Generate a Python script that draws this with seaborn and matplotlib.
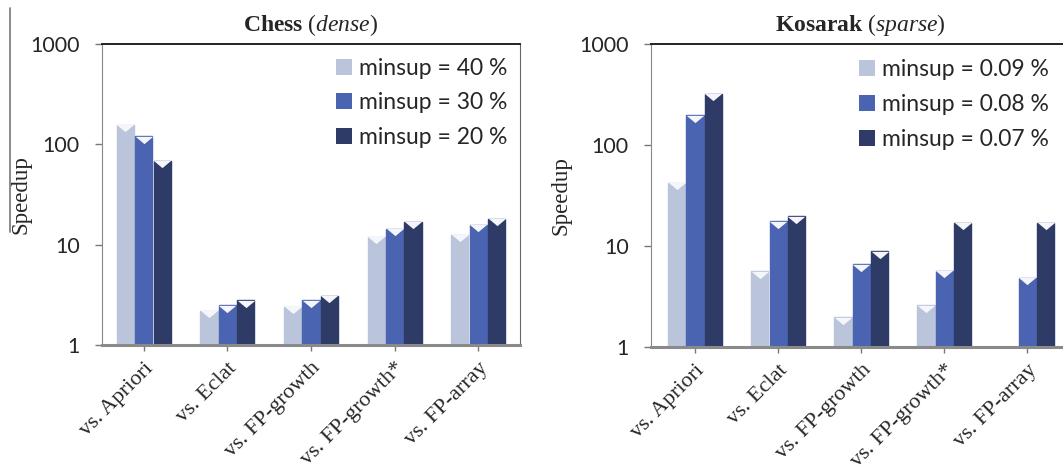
import numpy as np
import pandas as pd
import matplotlib
matplotlib.use("Agg")
import matplotlib.pyplot as plt
from matplotlib.lines import Line2D
import seaborn as sns

# ---------------- data ----------------
categories = ["vs. Apriori", "vs. Eclat", "vs. FP-growth", "vs. FP-growth*", "vs. FP-array"]

chess_labels = ["minsup = 40 %", "minsup = 30 %", "minsup = 20 %"]
chess_40 = [157, 2.2, 2.4, 12.0, 12.6]
chess_30 = [120, 2.5, 2.8, 14.4, 15.8]
chess_20 = [69, 2.8, 3.1, 17.0, 18.2]

kosarak_labels = ["minsup = 0.09 %", "minsup = 0.08 %", "minsup = 0.07 %"]
kosarak_009 = [42.5, 5.6, 1.96, 2.6, np.nan]
kosarak_008 = [197, 17.6, 6.6, 5.7, 4.85]
kosarak_007 = [321, 19.6, 8.9, 17.0, 17.0]

y_ticks = [1, 10, 100, 1000]
y_ticklabels = ["1", "10", "100", "1000"]

colors = ["#b5c2e0", "#3a5bc2", "#25366f"]
highlight = ["#f4f6fb", "#7fa6ef", "#4d69c0"]


def long_frame(series_labels, series_values):
    rows = []
    for lab, vals in zip(series_labels, series_values):
        for cat, v in zip(categories, vals):
            rows.append({"cat": cat, "series": lab, "value": v})
    return pd.DataFrame(rows)


chess_df = long_frame(chess_labels, [chess_40, chess_30, chess_20])
kos_df = long_frame(kosarak_labels, [kosarak_009, kosarak_008, kosarak_007])

# ---------------- style ----------------
sns.set_style("ticks")
plt.rcParams["font.family"] = ["Lato", "DejaVu Sans"]
plt.rcParams["mathtext.fontset"] = "custom"
plt.rcParams["mathtext.rm"] = "Liberation Serif"
plt.rcParams["mathtext.it"] = "Liberation Serif:italic"
plt.rcParams["mathtext.bf"] = "Liberation Serif:bold"

fig = plt.figure(figsize=(10.63, 4.74), dpi=100)

W, H = 1063, 474
ax1 = fig.add_axes([102 / W, 1 - 345 / H, 418 / W, (345 - 44) / H])
ax2 = fig.add_axes([651 / W, 1 - 347 / H, 418 / W, (347 - 44) / H])

serif = "Liberation Serif"

tri = [(-1.0, 0.42), (1.0, 0.42), (0.0, -0.42)]
hex_colors = [matplotlib.colors.to_hex(c) for c in colors]


def draw(ax, df, labels, title, xlim_left, ylab_x, leg_anchor):
    ax.set_yscale("log")
    sns.barplot(data=df, x="cat", y="value", hue="series", hue_order=labels,
                order=categories, palette=colors, width=0.66, gap=0.06,
                edgecolor="none", ax=ax, legend=True, err_kws={"linewidth": 0})
    ax.set_ylim(1, 1000)
    ax.set_xlim(xlim_left, 4.5)
    ax.set_yticks(y_ticks)
    ax.set_yticklabels(y_ticklabels, fontsize=15.5, family=["Lato", "DejaVu Sans"])
    ax.yaxis.set_minor_locator(matplotlib.ticker.NullLocator())
    ax.set_xticks(range(len(categories)))
    ax.set_xticklabels(categories, rotation=45, ha="right", rotation_mode="anchor",
                       fontsize=16, family=serif)
    ax.tick_params(axis="x", length=4, width=1, color="#777777", pad=6)
    ax.tick_params(axis="y", length=5, width=1, color="#777777", pad=11)
    ax.set_xlabel("")
    ax.set_ylabel("Speedup", fontsize=16.5, family=serif)
    ax.yaxis.set_label_coords(ylab_x, 0.5)
    ax.set_title(title, fontsize=17, pad=9)

    ax.spines["left"].set_color("#888888")
    ax.spines["bottom"].set_color("#8a8a8a")
    ax.spines["bottom"].set_linewidth(2.2)
    ax.spines["top"].set_color("#222222")
    ax.spines["top"].set_linewidth(1.4)
    ax.spines["right"].set_color("#666666")

    # highlight triangles on bar tops (3D look), placed from the drawn bars
    for p in list(ax.patches):
        h = p.get_height()
        if not np.isfinite(h) or h <= 1:
            continue
        fc = matplotlib.colors.to_hex(p.get_facecolor())
        idx = hex_colors.index(fc) if fc in hex_colors else 0
        xc = p.get_x() + p.get_width() / 2
        top = p.get_y() + h
        ax.plot([xc], [top / 1.085], marker=tri, markersize=12.5, linestyle="none",
                color=highlight[idx], markeredgewidth=0, zorder=3)
        p.set_edgecolor(p.get_facecolor())

    handles, labs = ax.get_legend_handles_labels()
    ax.legend(handles[:3], labs[:3], loc="upper right", frameon=False,
              fontsize=16.5, handlelength=0.7, handleheight=0.7,
              handletextpad=0.3, labelspacing=0.6, borderpad=0,
              borderaxespad=0, bbox_to_anchor=leg_anchor)


draw(ax1, chess_df, chess_labels, r"$\mathbf{Chess}\ (\mathit{dense})$", -0.5,
     -0.168, (0.969, 0.955))
draw(ax2, kos_df, kosarak_labels, r"$\mathbf{Kosarak}\ (\mathit{sparse})$", -0.53,
     -0.19, (0.952, 0.95))
ax2.spines["right"].set_visible(False)

# thin vertical rule at far left of the original figure
fig.add_artist(Line2D([10 / W, 10 / W], [1 - 8 / H, 1 - 232 / H],
                      color="#777777", lw=1.2))

fig.savefig("out.png", dpi=100)
